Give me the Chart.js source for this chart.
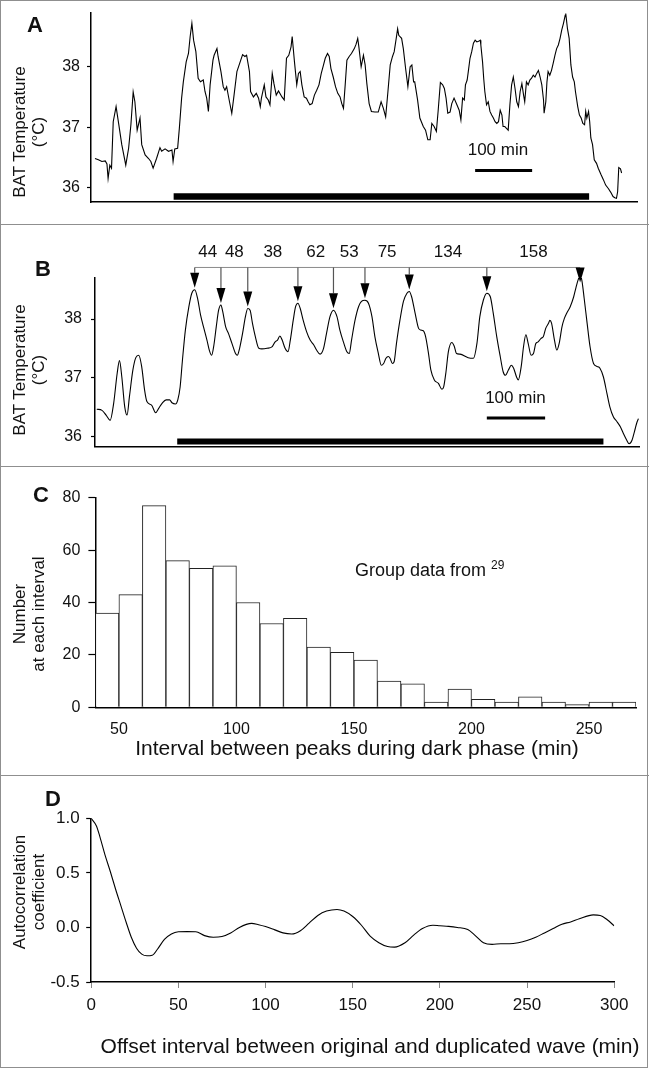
<!DOCTYPE html>
<html>
<head>
<meta charset="utf-8">
<script src="https://cdn.jsdelivr.net/npm/chart.js@4.4.1/dist/chart.umd.min.js"></script>
<style>
    body { margin: 0; background: #fff; font-family: "Liberation Sans", Arial, sans-serif; color: #111; }
    canvas { position: absolute; left: 0; display: block; }
    .frame { position: absolute; left: 0; top: 0; width: 646px; height: 1066px; border: 1.5px solid #8f8f8f; }
    .divider { position: absolute; left: 0; width: 649px; height: 0; border-top: 1.5px solid #8f8f8f; }
    .t { position: absolute; white-space: nowrap; transform: translate(-50%, -50%); text-align: center; }
    .rot { transform: translate(-50%, -50%) rotate(-90deg); font-size: 17px; line-height: 19px; }
    .letter { font-weight: bold; font-size: 22px; }
    .xtitle { font-size: 21px; }
</style>
</head>
<body>
<div class="frame"></div>
<div class="divider" style="top:224px"></div>
<div class="divider" style="top:466px"></div>
<div class="divider" style="top:775px"></div>

<canvas id="chartA" width="648" height="224" style="top:0px"></canvas>
<canvas id="chartB" width="648" height="242" style="top:224px"></canvas>
<canvas id="chartC" width="648" height="309" style="top:466px"></canvas>
<canvas id="chartD" width="648" height="294" style="top:775px"></canvas>

<div class="t letter" style="left:35px;top:25px">A</div>
<div class="t letter" style="left:43px;top:269px">B</div>
<div class="t letter" style="left:41px;top:495px">C</div>
<div class="t letter" style="left:53px;top:799px">D</div>

<div class="t rot" style="left:29px;top:132px">BAT Temperature<br>(°C)</div>
<div class="t rot" style="left:29px;top:370px">BAT Temperature<br>(°C)</div>
<div class="t rot" style="left:29px;top:614px">Number<br>at each interval</div>
<div class="t rot" style="left:29px;top:892px">Autocorrelation<br>coefficient</div>

<div class="t xtitle" style="left:357px;top:748px">Interval between peaks during dark phase (min)</div>
<div class="t xtitle" style="left:370px;top:1046px">Offset interval between original and duplicated wave (min)</div>
<div class="t" style="left:355px;top:569px;transform:translate(0,-50%);font-size:18px">Group data from <sup style="font-size:12px">29</sup></div>

<script>
// ---- panel A: raw BAT temperature trace ----
var minutesA = [7, 13, 19, 25, 28, 30, 33, 36, 39, 44, 48, 54, 61, 66, 70, 74, 77, 81, 86, 89,
    95, 101, 105, 109, 115, 121, 124, 130, 136, 142, 144, 147, 152, 155, 159, 162, 167, 171, 174, 177,
    180, 184, 188, 192, 197, 200, 203, 206, 209, 214, 216, 221, 223, 228, 232, 235, 238, 243, 247, 251,
    256, 261, 266, 270, 273, 278, 280, 285, 290, 294, 297, 299, 304, 307, 311, 314, 318, 321, 325, 329,
    335, 339, 343, 347, 351, 353, 357, 361, 364, 367, 370, 374, 378, 381, 384, 388, 392, 396, 400, 404,
    408, 411, 415, 418, 421, 425, 429, 433, 437, 440, 443, 446, 449, 453, 457, 462, 465, 468, 470, 474,
    478, 481, 484, 488, 492, 498, 504, 509, 513, 517, 521, 525, 529, 532, 536, 538, 540, 545, 548, 552,
    556, 560, 563, 566, 568, 573, 577, 583, 587, 591, 595, 598, 602, 606, 609, 613, 617, 620, 623, 626,
    630, 633, 637, 642, 646, 649,
    652, 655, 657, 660, 662, 665, 668, 671, 674, 677, 680, 683, 684, 687, 689, 691, 694, 697, 700, 703,
    706, 709, 712, 715, 718, 721, 723, 726, 729, 732, 735, 738, 741, 744, 747, 750, 753, 756, 759, 761,
    764, 767, 770, 773, 776, 779, 782, 785, 788, 791, 794, 795, 798, 800, 802, 805, 808, 811, 814, 817,
    820, 823, 826, 829, 832, 833, 836, 839, 842, 845, 848, 850, 854, 857, 860, 863, 866, 868, 870, 873,
    875, 877, 880, 883, 887, 890, 895, 899, 903, 908, 912, 916, 919, 922, 924, 926, 929, 931];
var tempA = [36.48, 36.46, 36.43, 36.44, 36.39, 36.15, 36.37, 36.32, 37.09, 37.34, 37.09, 36.71, 36.37, 36.65, 37.04, 37.58, 37.42, 36.95, 37.15, 36.71,
    36.54, 36.48, 36.43, 36.32, 36.48, 36.66, 36.60, 36.64, 36.60, 36.62, 36.43, 36.64, 36.65, 36.98, 37.48, 37.75, 38.08, 38.22, 38.50, 38.72,
    38.44, 38.25, 37.81, 37.75, 37.78, 37.59, 37.48, 37.26, 37.70, 38.11, 38.19, 38.30, 38.17, 37.92, 37.67, 37.61, 37.67, 37.42, 37.23, 37.53,
    37.92, 38.06, 38.20, 38.17, 38.19, 37.92, 37.59, 37.50, 37.56, 37.48, 37.34, 37.48, 37.70, 37.50, 37.45, 37.37, 37.89, 37.72, 37.53, 37.60,
    37.50, 37.45, 38.14, 38.19, 38.33, 38.50, 38.08, 37.70, 37.89, 37.92, 37.70, 37.50, 37.48, 37.42, 37.37, 37.39, 37.53, 37.61, 37.70, 37.89,
    38.03, 38.14, 38.22, 38.17, 37.97, 37.83, 37.67, 37.56, 37.50, 37.39, 37.31, 37.70, 38.11, 38.17, 38.22, 38.30, 38.37, 38.47, 38.33, 38.00,
    38.19, 38.03, 37.72, 37.39, 37.26, 37.25, 37.25, 37.42, 37.31, 37.17, 37.59, 38.03, 38.17, 38.25, 38.50, 38.63, 38.52, 38.47, 38.30, 37.97,
    37.67, 38.00, 38.03, 37.75, 37.75, 37.45, 37.15, 37.01, 36.95, 36.79, 36.79, 37.06, 37.01, 36.93, 37.26, 37.74, 37.70, 37.64, 37.48, 37.23,
    37.25, 37.39, 37.48, 37.37, 37.28, 37.12,
    37.48, 37.45, 37.70, 37.78, 37.92, 38.14, 38.25, 38.39, 38.44, 38.41, 38.42, 38.44, 38.36, 38.08, 37.81, 37.59, 37.37, 37.42, 37.26, 37.20,
    37.15, 37.09, 37.06, 37.09, 37.28, 37.20, 37.01, 37.01, 36.98, 36.95, 37.37, 37.70, 37.83, 37.64, 37.42, 37.34, 37.59, 37.72, 37.53, 37.42,
    37.75, 37.70, 37.78, 37.81, 37.86, 37.83, 37.89, 37.94, 37.83, 37.70, 37.45, 37.23, 37.42, 37.75, 37.92, 37.86, 37.94, 38.06, 38.19, 38.30,
    38.36, 38.47, 38.61, 38.72, 38.85, 38.88, 38.63, 38.47, 38.03, 37.83, 37.75, 37.59, 37.34, 37.20, 37.15, 37.06, 37.04, 37.26, 37.15, 37.26,
    37.09, 36.82, 36.71, 36.46, 36.40, 36.32, 36.21, 36.13, 36.04, 35.98, 35.92, 35.85, 35.83, 35.82, 35.93, 36.33, 36.31, 36.24];
var yTicksA = [36, 37, 38];
var darkPhaseA = [145, 874];      // minutes, black bar
var darkLevelA = 35.85;
var scaleBarA = [674, 774];       // 100 min
var scaleLevelA = 36.28;

// ---- panel B: smoothed trace with marked peaks ----
var minutesB = [3, 12, 19, 26, 32, 38, 42, 46, 51, 55, 59, 65, 70, 75, 80, 85, 89, 97, 104, 109,
    115, 122, 128, 132, 138, 142, 146, 150, 155, 161, 166, 171, 176, 181, 186, 192, 196, 200, 204, 208,
    212, 216, 219, 224, 229, 235, 241, 244, 248, 253, 258, 262, 266, 270, 275, 281, 286, 295, 304, 309,
    313, 317, 321, 326, 331, 335, 340, 344, 348, 352, 357, 363, 369, 375, 380, 386, 392, 397, 403, 409,
    415, 420, 426, 432, 436, 440, 446, 452, 457, 463, 469, 475, 480, 486, 491, 495, 499, 503, 506, 510,
    513, 517, 523, 529, 535, 539, 543, 549, 555, 559, 563, 567, 572, 576, 582, 589, 595, 598, 602, 606,
    612, 616, 620, 626,
    640, 649, 655, 660, 666, 672, 678, 683, 689, 695, 700, 704, 709, 714, 718, 723, 726, 731, 735, 739,
    743, 748, 752, 756, 760, 765, 769, 773, 778, 780, 783, 788, 792, 796, 801, 805, 809, 815, 821, 825,
    829, 832, 835, 839, 844, 849, 855, 861, 866, 872, 878, 883, 889, 895, 901, 906, 912, 916, 921, 925,
    929, 932];
var tempB = [36.46, 36.44, 36.36, 36.27, 36.56, 37.07, 37.29, 37.01, 36.50, 36.36, 36.67, 37.13, 37.34, 37.38, 37.19, 36.79, 36.59, 36.53, 36.40, 36.47,
    36.56, 36.62, 36.62, 36.57, 36.55, 36.62, 36.84, 37.30, 37.81, 38.21, 38.44, 38.50, 38.35, 38.07, 37.87, 37.64, 37.47, 37.38, 37.56, 37.87,
    38.15, 38.24, 38.13, 37.87, 37.75, 37.58, 37.41, 37.38, 37.50, 37.75, 38.04, 38.18, 38.15, 37.93, 37.70, 37.50, 37.49, 37.50, 37.53, 37.61,
    37.64, 37.71, 37.64, 37.50, 37.44, 37.64, 37.98, 38.21, 38.27, 38.18, 37.98, 37.78, 37.64, 37.56, 37.47, 37.40, 37.50, 37.75, 38.04, 38.15,
    38.04, 37.81, 37.61, 37.44, 37.41, 37.64, 37.98, 38.21, 38.30, 38.32, 38.27, 38.04, 37.70, 37.41, 37.21, 37.24, 37.33, 37.36, 37.33, 37.24,
    37.27, 37.58, 37.98, 38.30, 38.44, 38.47, 38.38, 38.10, 37.84, 37.81, 37.80, 37.70, 37.41, 37.13, 36.96, 36.90, 36.80, 36.84, 37.10, 37.44,
    37.60, 37.54, 37.41, 37.40,
    37.34, 37.33, 37.58, 38.04, 38.32, 38.44, 38.38, 38.10, 37.70, 37.36, 37.10, 37.04, 37.13, 37.21, 37.16, 37.01, 36.96, 37.19, 37.53, 37.73,
    37.58, 37.38, 37.41, 37.58, 37.61, 37.67, 37.70, 37.84, 37.93, 37.98, 37.93, 37.64, 37.47, 37.58, 37.87, 38.01, 38.10, 38.21, 38.38, 38.54,
    38.68, 38.74, 38.66, 38.35, 37.93, 37.53, 37.24, 37.19, 37.16, 37.01, 36.73, 36.50, 36.33, 36.25, 36.16, 36.05, 35.93, 35.87, 35.93, 36.07,
    36.22, 36.30];
var yTicksB = [36, 37, 38];
var peakMinB = [171, 216, 262, 348, 409, 463, 539, 672, 832];
var intervalLabelsB = ['44', '48', '38', '62', '53', '75', '134', '158'];
var bracketLevelB = 38.88;
var labelLevelB = 39.14;
var darkPhaseB = [141, 872];
var darkLevelB = 35.91;
var scaleBarB = [672, 772];
var scaleLevelB = 36.31;

// ---- panel C: histogram of peak intervals ----
var binMidC = [45, 55, 65, 75, 85, 95, 105, 115, 125, 135, 145, 155, 165, 175, 185, 195, 205, 215, 225, 235, 245, 255, 265];
var countsC = [36, 43, 77, 56, 53, 54, 40, 32, 34, 23, 21, 18, 10, 9, 2, 7, 3, 2, 4, 2, 1, 2, 2];
var xTicksC = [50, 100, 150, 200, 250];
var yTicksC = [0, 20, 40, 60, 80];

// ---- panel D: autocorrelation ----
var offsetD = [0, 3, 5, 8, 11, 14, 17, 20, 23, 26, 29, 32, 35, 38, 42, 46, 50, 55, 60, 65,
    70, 75, 80, 85, 89, 92, 96, 100, 105, 110, 115, 120, 125, 130, 135, 141, 145, 150, 155, 160,
    165, 170, 174, 180, 185, 190, 196, 200, 205, 210, 216, 220, 225, 230, 235, 240, 245, 250, 255, 260,
    265, 270, 275, 280, 288, 292, 296, 300];
var coefD = [1.0, 0.93, 0.83, 0.66, 0.51, 0.35, 0.20, 0.05, -0.09, -0.19, -0.245, -0.26, -0.255, -0.20, -0.11, -0.06, -0.04, -0.038, -0.04, -0.075,
    -0.09, -0.083, -0.05, 0.0, 0.028, 0.037, 0.025, 0.008, -0.02, -0.05, -0.06, -0.03, 0.04, 0.11, 0.15, 0.165, 0.15, 0.10, 0.02, -0.08,
    -0.14, -0.175, -0.18, -0.14, -0.07, -0.01, 0.02, 0.015, 0.01, 0.0, -0.02, -0.07, -0.14, -0.155, -0.15, -0.15, -0.14, -0.12, -0.09, -0.05,
    -0.01, 0.03, 0.05, 0.08, 0.115, 0.11, 0.07, 0.015];
var xTicksD = [0, 50, 100, 150, 200, 250, 300];
var yTicksD = [-0.5, 0, 0.5, 1.0];

var FONT = '"Liberation Sans", Arial, sans-serif';
Chart.defaults.font.family = FONT;
Chart.defaults.color = '#111';

function points(xs, ys) {
    return xs.map(function (x, i) { return { x: x, y: ys[i] }; });
}

function barSegment(span, level, width) {
    return {
        data: [{ x: span[0], y: level }, { x: span[1], y: level }],
        borderColor: '#000', borderWidth: width, borderCapStyle: 'butt',
        pointRadius: 0, clip: false
    };
}

function fixedTicks(list) {
    return function (scale) { scale.ticks = list.map(function (v) { return { value: v }; }); };
}

function fitY(width) {
    return function (scale) { scale.width = width; scale.paddingTop = 0; scale.paddingBottom = 0; };
}

function fitX(height) {
    return function (scale) { scale.height = height; scale.paddingLeft = 0; scale.paddingRight = 0; };
}

// text placed in data units (scale bar captions)
var notesPlugin = {
    id: 'notes',
    afterDatasetsDraw: function (chart, args, opts) {
        var ctx = chart.ctx, xs = chart.scales.x, ys = chart.scales.y;
        (opts.items || []).forEach(function (n) {
            ctx.save();
            ctx.font = n.size + 'px ' + FONT;
            ctx.fillStyle = '#111';
            ctx.textAlign = 'center';
            ctx.textBaseline = 'middle';
            ctx.fillText(n.text, xs.getPixelForValue(n.x), ys.getPixelForValue(n.y));
            ctx.restore();
        });
    }
};

// bracket, arrows and interval numbers over the peaks of panel B
var peakArrows = {
    id: 'peakArrows',
    afterDatasetsDraw: function (chart) {
        var ctx = chart.ctx, xs = chart.scales.x, ys = chart.scales.y;
        var top = ys.getPixelForValue(bracketLevelB);
        var px = peakMinB.map(function (m) { return xs.getPixelForValue(m); });
        ctx.save();
        ctx.strokeStyle = '#8a8a8a';
        ctx.lineWidth = 1;
        ctx.beginPath();
        ctx.moveTo(px[0], top);
        ctx.lineTo(px[px.length - 1], top);
        ctx.stroke();
        peakMinB.forEach(function (m, i) {
            var t = tempB[minutesB.indexOf(m)];
            var tip = ys.getPixelForValue(t) - 2;
            var headTop = Math.max(top, tip - 15);
            if (headTop > top) {
                ctx.strokeStyle = '#555';
                ctx.lineWidth = 1.2;
                ctx.beginPath();
                ctx.moveTo(px[i], top);
                ctx.lineTo(px[i], headTop);
                ctx.stroke();
            }
            ctx.fillStyle = '#000';
            ctx.beginPath();
            ctx.moveTo(px[i] - 4.5, headTop);
            ctx.lineTo(px[i] + 4.5, headTop);
            ctx.lineTo(px[i], headTop + 15);
            ctx.closePath();
            ctx.fill();
        });
        ctx.font = '17px ' + FONT;
        ctx.fillStyle = '#111';
        ctx.textAlign = 'center';
        ctx.textBaseline = 'middle';
        intervalLabelsB.forEach(function (lab, i) {
            ctx.fillText(lab, (px[i] + px[i + 1]) / 2, ys.getPixelForValue(labelLevelB));
        });
        ctx.restore();
    }
};

function yAxis(min, max, ticks, width, tickLen, pad, size, fmt) {
    return {
        type: 'linear', min: min, max: max,
        afterBuildTicks: fixedTicks(ticks),
        afterFit: fitY(width),
        ticks: { font: { size: size }, color: '#111', padding: pad, callback: fmt },
        grid: { drawOnChartArea: false, drawTicks: true, tickLength: tickLen, tickColor: '#000', tickWidth: 1.2 },
        border: { color: '#000', width: 1.5 }
    };
}

function traceChart(id, minutes, temps, opts) {
    return new Chart(document.getElementById(id), {
        type: 'line',
        data: {
            datasets: [
                {
                    data: points(minutes, temps),
                    borderColor: '#000', borderWidth: 1.1, pointRadius: 0,
                    tension: opts.smooth ? 0.4 : 0, cubicInterpolationMode: opts.smooth ? 'monotone' : 'default'
                },
                barSegment(opts.dark, opts.darkLevel, opts.darkWidth),
                barSegment(opts.scaleBar, opts.scaleLevel, 3)
            ]
        },
        options: {
            responsive: false, animation: false, devicePixelRatio: 1,
            layout: { padding: { left: 0, right: opts.padRight, top: opts.padTop, bottom: 0 } },
            plugins: {
                legend: { display: false }, tooltip: { enabled: false },
                notes: { items: [{ text: '100 min', x: opts.captionAt[0], y: opts.captionAt[1], size: 17 }] }
            },
            scales: {
                x: {
                    type: 'linear', min: 0, max: opts.xMax,
                    afterFit: fitX(opts.xHeight),
                    ticks: { display: false },
                    grid: { display: false },
                    border: { color: '#000', width: 1.5 }
                },
                y: yAxis(opts.yMin, opts.yMax, opts.yTicks, opts.yWidth, 4, opts.tickPad, 16)
            }
        },
        plugins: opts.extra ? [notesPlugin, opts.extra] : [notesPlugin]
    });
}

traceChart('chartA', minutesA, tempA, {
    smooth: false, xMax: 958, yMin: 35.76, yMax: 38.89, yTicks: yTicksA,
    yWidth: 91, xHeight: 22, padTop: 13, padRight: 11, tickPad: 7,
    dark: darkPhaseA, darkLevel: darkLevelA, darkWidth: 6.5,
    scaleBar: scaleBarA, scaleLevel: scaleLevelA, captionAt: [714, 36.61]
});

traceChart('chartB', minutesB, tempB, {
    smooth: true, xMax: 933, yMin: 35.82, yMax: 38.70, yTicks: yTicksB,
    yWidth: 95, xHeight: 19.3, padTop: 54, padRight: 9, tickPad: 9,
    dark: darkPhaseB, darkLevel: darkLevelB, darkWidth: 6,
    scaleBar: scaleBarB, scaleLevel: scaleLevelB, captionAt: [721, 36.64],
    extra: peakArrows
});

new Chart(document.getElementById('chartC'), {
    type: 'bar',
    data: {
        datasets: [{
            data: points(binMidC, countsC),
            backgroundColor: '#fff', borderColor: '#222', borderWidth: 1,
            barPercentage: 1, categoryPercentage: 1
        }]
    },
    options: {
        responsive: false, animation: false, devicePixelRatio: 1,
        layout: { padding: { left: 0, right: 12, top: 31.7, bottom: 0 } },
        plugins: { legend: { display: false }, tooltip: { enabled: false } },
        scales: {
            x: {
                type: 'linear', min: 40, max: 270, offset: false,
                afterBuildTicks: fixedTicks(xTicksC),
                afterFit: fitX(67.7),
                ticks: { font: { size: 16 }, color: '#111', padding: 5 },
                grid: { display: false, offset: false },
                border: { color: '#000', width: 1.5 }
            },
            y: yAxis(0, 80, yTicksC, 95.4, 7, 8, 16)
        }
    }
});

new Chart(document.getElementById('chartD'), {
    type: 'line',
    data: {
        datasets: [{
            data: points(offsetD, coefD),
            borderColor: '#000', borderWidth: 1.1, pointRadius: 0,
            cubicInterpolationMode: 'monotone'
        }]
    },
    options: {
        responsive: false, animation: false, devicePixelRatio: 1,
        layout: { padding: { left: 0, right: 33.8, top: 43.3, bottom: 0 } },
        plugins: { legend: { display: false }, tooltip: { enabled: false } },
        scales: {
            x: {
                type: 'linear', min: 0, max: 300,
                afterBuildTicks: fixedTicks(xTicksD),
                afterFit: fitX(87),
                ticks: { font: { size: 17 }, color: '#111', padding: 7 },
                grid: { drawOnChartArea: false, drawTicks: true, tickLength: 6, tickColor: '#888' },
                border: { color: '#000', width: 1.5 }
            },
            y: yAxis(-0.5, 1.0, yTicksD, 91.2, 5, 6.5, 17, function (v) { return v.toFixed(1); })
        }
    }
});
</script>
</body>
</html>
